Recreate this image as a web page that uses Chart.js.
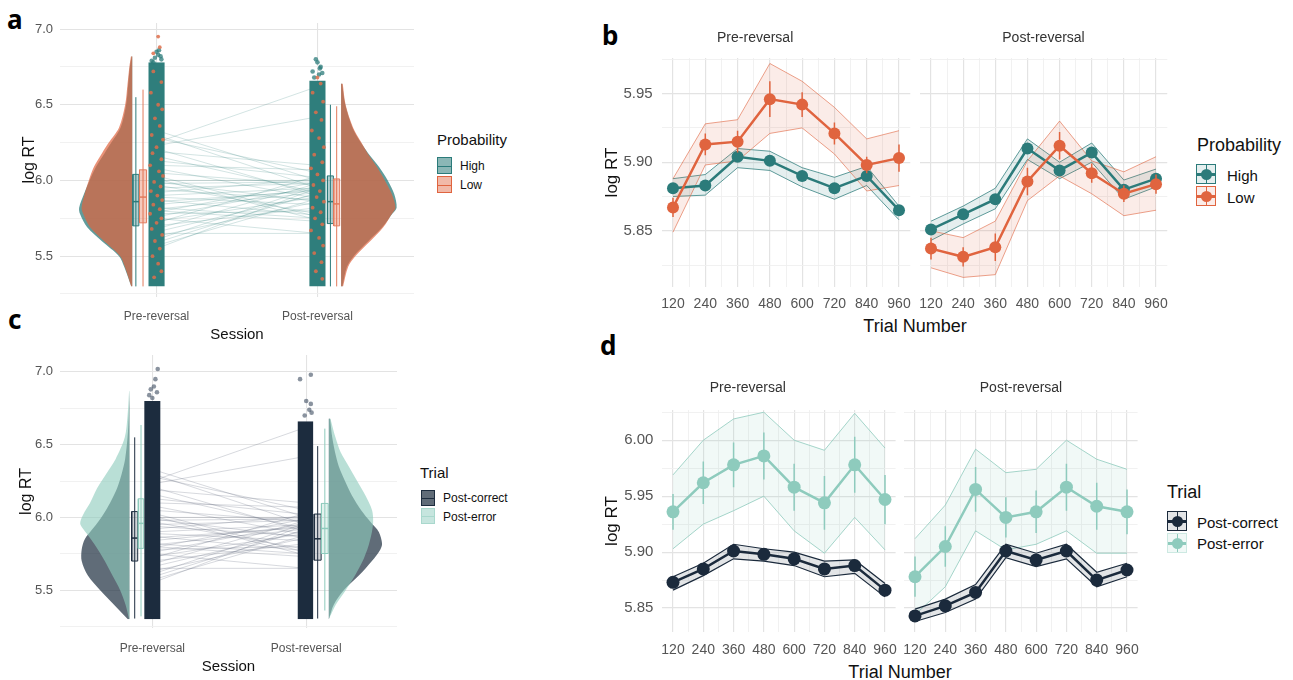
<!DOCTYPE html>
<html>
<head>
<meta charset="utf-8">
<script src="https://cdn.jsdelivr.net/npm/chart.js@4.4.1/dist/chart.umd.min.js"></script>
<style>
body{margin:0;width:1293px;height:680px;position:relative;overflow:hidden;background:#fff;font-family:"Liberation Sans",Arial,sans-serif;color:#111}
canvas{position:absolute}
.t{position:absolute;white-space:nowrap;line-height:1}
.c{transform:translate(-50%,-50%)}
.l{transform:translateY(-50%)}
.letter{font-family:"Noto Sans","DejaVu Sans",sans-serif;font-weight:700;font-size:26px;color:#000}
.bk{position:absolute;box-sizing:border-box;border:1px solid var(--c);background:var(--f)}
.bk i{position:absolute;left:0;right:0;top:50%;height:1px;background:var(--c)}
.pk{position:absolute;width:20px;height:20px;box-sizing:border-box;border:1px solid var(--c);background:var(--f)}
.pk .h{position:absolute;left:0;right:0;top:8px;height:2.5px;background:var(--p)}
.pk .v{position:absolute;top:0;bottom:0;left:8.5px;width:1.5px;background:var(--p)}
.pk .d{position:absolute;left:3.5px;top:3.5px;width:11px;height:11px;border-radius:50%;background:var(--p)}
</style>
</head>
<body>
<div class="t letter" style="left:7px;top:6px">a</div>
<div class="t letter" style="left:8px;top:306px">c</div>
<div class="t letter" style="left:602px;top:22px">b</div>
<div class="t letter" style="left:600px;top:332px">d</div>

<div class="t l" style="left:437px;top:139px;font-size:15px">Probability</div>
<div class="bk" style="left:437px;top:157px;width:15px;height:17px;--c:#2b7b7a;--f:rgba(43,123,122,.55)"><i></i></div>
<div class="bk" style="left:437px;top:176px;width:15px;height:17px;--c:#e0643f;--f:rgba(224,100,63,.45)"><i></i></div>
<div class="t l" style="left:460px;top:166px;font-size:12px">High</div>
<div class="t l" style="left:460px;top:185px;font-size:12px">Low</div>

<div class="t l" style="left:420px;top:472px;font-size:15px">Trial</div>
<div class="bk" style="left:421px;top:490px;width:14px;height:16px;--c:#1d2d3f;--f:rgba(29,45,63,.7)"><i></i></div>
<div class="bk" style="left:421px;top:508px;width:14px;height:16px;--c:#a9d8cd;--f:rgba(142,203,189,.5)"><i></i></div>
<div class="t l" style="left:443px;top:498px;font-size:12px">Post-correct</div>
<div class="t l" style="left:443px;top:517px;font-size:12px">Post-error</div>

<div class="t c" style="left:915px;top:326px;font-size:18px">Trial Number</div>
<div class="t l" style="left:1197px;top:145px;font-size:18px">Probability</div>
<div class="pk" style="left:1196px;top:164px;--c:#2b7b7a;--p:#2b7b7a;--f:rgba(43,123,122,.12)"><i class="h"></i><i class="v"></i><i class="d"></i></div>
<div class="pk" style="left:1196px;top:186px;--c:#e0643f;--p:#e0643f;--f:rgba(224,100,63,.12)"><i class="h"></i><i class="v"></i><i class="d"></i></div>
<div class="t l" style="left:1227px;top:175px;font-size:15px">High</div>
<div class="t l" style="left:1227px;top:197px;font-size:15px">Low</div>

<div class="t c" style="left:900px;top:672px;font-size:18px">Trial Number</div>
<div class="t l" style="left:1167px;top:492px;font-size:18px">Trial</div>
<div class="pk" style="left:1167px;top:511px;--c:#1b2a3c;--p:#1b2a3c;--f:rgba(27,42,60,.12)"><i class="h"></i><i class="v"></i><i class="d"></i></div>
<div class="pk" style="left:1167px;top:533px;--c:#cde9e2;--p:#8ecbbd;--f:rgba(142,203,189,.12)"><i class="h"></i><i class="v"></i><i class="d"></i></div>
<div class="t l" style="left:1197px;top:522px;font-size:15px">Post-correct</div>
<div class="t l" style="left:1197px;top:543px;font-size:15px">Post-error</div>

<script>
// ---- data ----
const sessions = ['Pre-reversal', 'Post-reversal'];
const trials = [120, 240, 360, 480, 600, 720, 840, 960];

// participant means per session (lines between the clouds)
const partPre  = [6.33,6.30,6.28,6.25,6.23,6.21,6.19,6.16,6.13,6.10,6.08,6.05,6.03,6.01,6.00,5.99,5.98,5.97,5.95,5.94,5.92,5.90,5.89,5.87,5.86,5.84,5.82,5.81,5.80,5.79,5.78,5.76,5.75,5.73,5.72,5.70,5.68,5.66,5.65,5.63,5.61,5.59,5.57,5.55];
const partPost = [6.00,5.95,6.05,6.62,6.42,5.90,6.10,5.92,6.02,6.07,5.88,5.97,5.76,5.74,6.00,5.86,5.99,5.78,5.98,5.87,6.01,5.95,5.84,5.77,5.93,5.94,5.75,5.92,5.73,5.99,5.80,5.96,5.65,5.89,6.03,5.82,5.98,5.91,5.65,5.86,5.96,5.92,5.88,5.95];

// panel a: densities (logRT grid, half-width in session units)
const aPreY     = [5.30,5.43,5.50,5.60,5.69,5.78,5.82,5.91,6.00,6.09,6.18,6.25,6.35,6.50,6.64,6.75,6.82];
const aPreHigh  = [0.006,0.050,0.082,0.190,0.280,0.325,0.330,0.300,0.265,0.225,0.172,0.130,0.072,0.038,0.025,0.015,0.004];
const aPreLow   = [0.006,0.046,0.075,0.176,0.262,0.305,0.315,0.296,0.270,0.238,0.188,0.146,0.082,0.044,0.029,0.018,0.008];
const aPostY    = [5.30,5.43,5.50,5.60,5.69,5.78,5.82,5.91,6.00,6.09,6.18,6.25,6.35,6.50,6.64];
const aPostHigh = [0.008,0.036,0.078,0.170,0.255,0.318,0.345,0.330,0.290,0.235,0.168,0.122,0.070,0.026,0.006];
const aPostLow  = [0.012,0.044,0.088,0.182,0.262,0.316,0.338,0.315,0.272,0.222,0.164,0.126,0.074,0.028,0.010];
// boxplots: [whisker low, q1, median, q3, whisker high]
const aPreHighBox  = [5.30,5.70,5.86,6.04,6.55];
const aPreLowBox   = [5.30,5.72,5.89,6.07,6.60];
const aPostHighBox = [5.30,5.715,5.86,6.03,6.50];
const aPostLowBox  = [5.30,5.70,5.845,6.01,6.49];
// jitter cloud range and visible dots
const aPreCloud = [5.30, 6.78];
const aPostCloud = [5.30, 6.66];
const aPreLowDotY  = [6.72,6.65,6.58,6.50,6.47,6.41,6.36,6.30,6.27,6.22,6.18,6.14,6.10,6.06,6.03,5.99,5.96,5.93,5.90,5.87,5.84,5.81,5.78,5.75,5.72,5.68,5.64,5.60,5.55,5.50,5.45,5.40,5.36,6.88,6.95,6.84];
const aPreLowDotX  = [-0.02,0.03,-0.035,0.01,0.035,-0.01,0.02,-0.03,0.04,0.0,-0.025,0.03,-0.04,0.015,0.04,-0.015,0.025,-0.035,0.005,0.035,-0.02,0.02,-0.04,0.03,0.0,-0.03,0.035,-0.01,0.02,-0.025,0.01,0.03,-0.015,0.02,0.01,-0.02];
const aPreHighOutY = [6.79,6.81,6.83,6.80,6.85,6.82,6.78,6.86];
const aPreHighOutX = [-0.03,-0.01,0.01,0.03,0.0,0.025,-0.02,0.015];
const aPostLowDotY = [6.64,6.58,6.52,6.45,6.40,6.33,6.28,6.22,6.17,6.12,6.08,6.04,6.00,5.97,5.93,5.89,5.86,5.82,5.79,5.75,5.71,5.67,5.62,5.57,5.52,5.46,5.40,5.35,6.68];
const aPostLowDotX = [0.02,-0.03,0.035,-0.01,0.025,-0.035,0.01,0.04,-0.02,0.03,-0.04,0.0,0.035,-0.025,0.015,-0.005,0.04,-0.03,0.02,-0.015,0.03,-0.04,0.01,0.035,-0.02,0.025,-0.01,0.03,0.0];
const aPostHighOutY = [6.68,6.70,6.72,6.75,6.78,6.80,6.71,6.74];
const aPostHighOutX = [-0.02,0.01,-0.03,0.02,0.0,-0.01,0.03,0.015];

// panel c
const cPreY     = [5.30,5.40,5.50,5.60,5.70,5.78,5.85,5.92,5.96,6.02,6.10,6.20,6.30,6.40,6.55,6.70,6.87];
const cPreCorr  = [0.010,0.100,0.190,0.270,0.310,0.310,0.290,0.240,0.210,0.170,0.125,0.080,0.050,0.028,0.012,0.004,0.0];
const cPreErr   = [0.002,0.025,0.060,0.110,0.160,0.205,0.250,0.300,0.320,0.300,0.255,0.210,0.150,0.090,0.030,0.012,0.002];
const cPostY    = [5.30,5.40,5.50,5.60,5.70,5.78,5.82,5.90,5.97,6.05,6.15,6.25,6.35,6.45,6.55,6.68];
const cPostCorr = [0.0,0.032,0.097,0.195,0.280,0.335,0.346,0.325,0.270,0.210,0.150,0.105,0.065,0.040,0.022,0.008];
const cPostErr  = [0.0,0.045,0.110,0.170,0.220,0.250,0.262,0.280,0.288,0.281,0.238,0.184,0.130,0.076,0.043,0.010];
const cPreCorrBox  = [5.305,5.70,5.858,6.04,6.55];
const cPreErrBox   = [5.32,5.787,5.959,6.128,6.635];
const cPostCorrBox = [5.305,5.706,5.853,6.023,6.49];
const cPostErrBox  = [5.36,5.752,5.924,6.096,6.61];
const cPreCloud = [5.30, 6.80];
const cPostCloud = [5.30, 6.66];
const cPreOutY  = [6.84,6.86,6.90,6.95,7.02,6.88,6.82];
const cPreOutX  = [-0.02,0.03,0.01,0.02,0.035,-0.01,0.0];
const cPostOutY = [6.70,6.74,6.78,6.95,6.98,6.80,6.72];
const cPostOutX = [-0.01,0.02,0.03,-0.04,0.03,0.0,0.035];

// panel b: Probability x trial bin
const highPreMean  = [5.881,5.883,5.904,5.901,5.890,5.881,5.890,5.865];
const highPreUpper = [5.888,5.891,5.910,5.908,5.896,5.889,5.897,5.868];
const highPreLower = [5.875,5.876,5.896,5.894,5.882,5.873,5.883,5.858];
const lowPreMean   = [5.867,5.913,5.915,5.946,5.942,5.921,5.898,5.903];
const lowPreUpper  = [5.888,5.928,5.931,5.972,5.959,5.940,5.917,5.923];
const lowPreLower  = [5.849,5.898,5.901,5.921,5.925,5.906,5.879,5.883];
const lowPreSE     = [0.007,0.008,0.008,0.013,0.009,0.008,0.006,0.010];
const highPostMean  = [5.851,5.862,5.873,5.910,5.894,5.907,5.880,5.888];
const highPostUpper = [5.857,5.868,5.881,5.917,5.900,5.914,5.887,5.895];
const highPostLower = [5.843,5.855,5.866,5.902,5.888,5.900,5.873,5.882];
const lowPostMean   = [5.837,5.831,5.838,5.886,5.912,5.892,5.877,5.884];
const lowPostUpper  = [5.850,5.845,5.857,5.901,5.930,5.901,5.893,5.904];
const lowPostLower  = [5.823,5.816,5.818,5.872,5.890,5.877,5.861,5.865];
const lowPostSE     = [0.008,0.007,0.010,0.010,0.010,0.007,0.006,0.007];

// panel d: Trial type x trial bin
const corrPreMean  = [5.873,5.885,5.901,5.898,5.894,5.885,5.888,5.866];
const corrPreUpper = [5.878,5.890,5.907,5.903,5.900,5.892,5.893,5.872];
const corrPreLower = [5.866,5.879,5.894,5.892,5.888,5.878,5.881,5.860];
const errPreMean   = [5.936,5.962,5.978,5.986,5.958,5.944,5.978,5.947];
const errPreUpper  = [5.969,6.000,6.019,6.025,6.000,5.991,6.024,5.993];
const errPreLower  = [5.903,5.925,5.937,5.950,5.919,5.899,5.931,5.902];
const errPreSE     = [0.016,0.019,0.020,0.021,0.021,0.024,0.025,0.022];
const corrPostMean  = [5.843,5.852,5.864,5.901,5.893,5.901,5.875,5.884];
const corrPostUpper = [5.849,5.858,5.871,5.907,5.899,5.907,5.882,5.890];
const corrPostLower = [5.838,5.846,5.858,5.895,5.887,5.894,5.869,5.878];
const errPostMean   = [5.878,5.905,5.956,5.931,5.936,5.958,5.941,5.936];
const errPostUpper  = [5.912,5.942,5.992,5.971,5.974,6.000,5.983,5.974];
const errPostLower  = [5.844,5.869,5.919,5.902,5.907,5.919,5.899,5.899];
const errPostSE     = [0.018,0.018,0.020,0.018,0.019,0.021,0.021,0.020];

// ---- styling ----
const TEAL = '#2b7b7a', ORANGE = '#e0643f', NAVY = '#1b2a3c', MINT = '#8ecbbd';
const GRID = '#e3e3e3', GRID_MINOR = '#efefef', TICK = '#555555';

Chart.defaults.font.family = '"Liberation Sans", Arial, sans-serif';
Chart.defaults.animation = false;
Chart.defaults.events = [];
Chart.defaults.plugins.legend.display = false;
Chart.defaults.plugins.tooltip.enabled = false;
Chart.defaults.elements.point.radius = 0;

function onStep(v, k) { return Math.abs(v * k - Math.round(v * k)) < 1e-6; }

function canvasAt(left, top, w, h) {
  const c = document.createElement('canvas');
  c.width = w; c.height = h;
  c.style.left = left + 'px'; c.style.top = top + 'px';
  c.style.width = w + 'px'; c.style.height = h + 'px';
  document.body.appendChild(c);
  return c;
}

const pts = (xs, ys) => ys.map((y, i) => ({x: xs[i], y}));

// raincloud panel (vertical, indexAxis y)
function rainChart(cv, o) {
  const ds = []; // bottom -> top
  const line = (data, color, w) => ds.push({data, borderColor: color, borderWidth: w, fill: false, pointRadius: 0});
  const area = (data, base, color, tension) => ds.push({data, fill: {value: base}, backgroundColor: color, borderWidth: 0, pointRadius: 0, tension: tension || 0});

  partPre.forEach((v, i) => line([{x: 1, y: v}, {x: 2, y: partPost[i]}], o.pairColor, 0.7));
  o.dens.forEach(d => area(d.ys.map((y, i) => ({x: d.base + d.side * d.w[i], y})), d.base, d.color, 0.3));
  o.boxes.forEach(b => {
    const wx = (b.l + b.r) / 2, v = b.v;
    line([{x: wx, y: v[0]}, {x: wx, y: v[4]}], b.line, 1);
    area([{x: b.r, y: v[1]}, {x: b.r, y: v[3]}], b.l, b.fill);
    line([{x: b.l, y: v[1]}, {x: b.r, y: v[1]}, {x: b.r, y: v[3]}, {x: b.l, y: v[3]}, {x: b.l, y: v[1]}], b.line, 1);
    line([{x: b.l, y: v[2]}, {x: b.r, y: v[2]}], b.line, 1.5);
  });
  o.clouds.forEach(c => area([{x: c.x + c.hw, y: c.r[0]}, {x: c.x + c.hw, y: c.r[1]}], c.x - c.hw, c.color));
  o.dots.forEach(d => ds.push({data: d.data, showLine: false, pointRadius: d.r, pointBackgroundColor: d.color, pointBorderWidth: 0, borderColor: d.color}));
  ds.forEach((d, i) => { d.order = ds.length - i; });

  return new Chart(cv, {
    type: 'line',
    data: {datasets: ds},
    options: {
      indexAxis: 'y',
      responsive: false,
      layout: {padding: o.pad},
      scales: {
        x: {
          type: 'linear', min: o.xMin, max: o.xMax,
          afterBuildTicks: s => { s.ticks = [{value: 1}, {value: 2}]; },
          ticks: {callback: v => sessions[Math.round(v) - 1], color: TICK, font: {size: 12}, padding: o.xTickPad, maxRotation: 0, autoSkip: false},
          grid: {color: GRID, lineWidth: 1.1, drawTicks: false},
          border: {display: false},
          title: {display: true, text: 'Session', color: '#111', font: {size: 15}, padding: {top: 0, bottom: o.xTitlePad}},
          afterFit: s => { s.height = o.xH; }
        },
        y: {
          type: 'linear', min: o.yMin, max: o.yMax,
          ticks: {stepSize: 0.25, includeBounds: false, autoSkip: false, callback: v => onStep(v, 2) ? v.toFixed(1) : '', color: TICK, font: {size: 13}, padding: 7},
          grid: {color: c => onStep(c.tick.value, 2) ? GRID : GRID_MINOR, lineWidth: c => onStep(c.tick.value, 2) ? 1.1 : 0.9, drawTicks: false},
          border: {display: false},
          title: {display: true, text: 'log RT', color: '#111', font: {size: 16}, padding: {top: o.yTitlePad, bottom: 0}},
          afterFit: s => { s.width = 60; }
        }
      }
    }
  });
}

// one facet of the trial-bin panels
function facetChart(cv, o) {
  const ds = [];
  o.series.forEach(s => {
    ds.push({data: pts(trials, s.upper), borderColor: s.edge, borderWidth: s.edgeW || 1, backgroundColor: s.band, fill: '+1', pointRadius: 0});
    ds.push({data: pts(trials, s.lower), borderColor: s.edge, borderWidth: s.edgeW || 1, fill: false, pointRadius: 0});
  });
  o.series.forEach(s => {
    if (s.se) {
      const d = [];
      trials.forEach((t, i) => { d.push({x: t, y: s.mean[i] - s.se[i]}, {x: t, y: s.mean[i] + s.se[i]}, {x: t, y: null}); });
      ds.push({data: d, borderColor: s.color, borderWidth: 1.5, spanGaps: false, fill: false, pointRadius: 0});
    }
    ds.push({data: pts(trials, s.mean), borderColor: s.color, borderWidth: 2.5, fill: false, pointRadius: o.r, pointBackgroundColor: s.color, pointBorderWidth: 0});
  });
  ds.forEach((d, i) => { d.order = ds.length - i; });

  return new Chart(cv, {
    type: 'line',
    data: {datasets: ds},
    options: {
      responsive: false,
      layout: {padding: o.pad},
      plugins: {
        title: {display: true, text: o.title, color: '#333', font: {size: 14, weight: 'normal'}, padding: {top: o.titleTop, bottom: o.titleBottom}}
      },
      scales: {
        x: {
          type: 'linear', min: 78, max: 1002,
          ticks: {stepSize: 60, includeBounds: false, autoSkip: false, maxRotation: 0, callback: v => v % 120 === 0 ? String(v) : '', color: TICK, font: {size: 14}, padding: o.xTickPad},
          grid: {color: c => c.tick.value % 120 === 0 ? GRID : GRID_MINOR, lineWidth: c => c.tick.value % 120 === 0 ? 1.2 : 0.9, drawTicks: false},
          border: {display: false},
          afterFit: s => { s.height = o.xH; }
        },
        y: {
          type: 'linear', min: o.yMin, max: o.yMax,
          ticks: {display: o.showY, stepSize: 0.025, includeBounds: false, autoSkip: false, callback: v => onStep(v, 20) ? v.toFixed(2) : '', color: TICK, font: {size: 15}, padding: 9},
          grid: {color: c => onStep(c.tick.value, 20) ? GRID : GRID_MINOR, lineWidth: c => onStep(c.tick.value, 20) ? 1.2 : 0.9, drawTicks: false},
          border: {display: false},
          title: {display: o.showY, text: 'log RT', color: '#111', font: {size: 17}, padding: {top: 1.8, bottom: 0}},
          afterFit: s => { s.width = o.yW; }
        }
      }
    }
  });
}

// ---- panel a ----
rainChart(canvasAt(0, 0, 430, 350), {
  pad: {top: 23, right: 16, bottom: 0, left: 0},
  xMin: 0.4, xMax: 2.6, yMin: 5.23, yMax: 7.04,
  xH: 53, xTickPad: 12, xTitlePad: 6, yTitlePad: 20.4,
  pairColor: 'rgba(43,123,122,0.3)',
  dens: [
    {ys: aPreY, w: aPreHigh, base: 0.849, side: -1, color: 'rgba(43,123,122,0.75)'},
    {ys: aPreY, w: aPreLow, base: 0.849, side: -1, color: 'rgba(224,100,63,0.7)'},
    {ys: aPostY, w: aPostHigh, base: 2.147, side: 1, color: 'rgba(43,123,122,0.75)'},
    {ys: aPostY, w: aPostLow, base: 2.147, side: 1, color: 'rgba(224,100,63,0.7)'}
  ],
  boxes: [
    {v: aPreHighBox, l: 0.853, r: 0.890, fill: 'rgba(43,123,122,0.35)', line: TEAL},
    {v: aPreLowBox, l: 0.894, r: 0.938, fill: 'rgba(224,100,63,0.35)', line: '#e27a5c'},
    {v: aPostHighBox, l: 2.062, r: 2.099, fill: 'rgba(43,123,122,0.35)', line: TEAL},
    {v: aPostLowBox, l: 2.101, r: 2.138, fill: 'rgba(224,100,63,0.35)', line: '#e27a5c'}
  ],
  clouds: [
    {x: 1, hw: 0.05, r: aPreCloud, color: '#2f7e7c'},
    {x: 2, hw: 0.05, r: aPostCloud, color: '#2f7e7c'}
  ],
  dots: [
    {data: pts(aPreHighOutX.map(d => 1 + d), aPreHighOutY), r: 2.3, color: 'rgba(43,123,122,0.75)'},
    {data: pts(aPostHighOutX.map(d => 2 + d), aPostHighOutY), r: 2.3, color: 'rgba(43,123,122,0.75)'},
    {data: pts(aPreLowDotX.map(d => 1 + d), aPreLowDotY), r: 1.9, color: 'rgba(222,110,75,0.85)'},
    {data: pts(aPostLowDotX.map(d => 2 + d), aPostLowDotY), r: 1.9, color: 'rgba(222,110,75,0.85)'}
  ]
});

// ---- panel c ----
rainChart(canvasAt(0, 340, 420, 340), {
  pad: {top: 15, right: 23, bottom: 0, left: 0},
  xMin: 0.4, xMax: 2.59, yMin: 5.24, yMax: 7.116,
  xH: 52, xTickPad: 13, xTitlePad: 4, yTitlePad: 17.4,
  pairColor: 'rgba(90,100,120,0.35)',
  dens: [
    {ys: cPreY, w: cPreCorr, base: 0.851, side: -1, color: 'rgba(29,45,63,0.7)'},
    {ys: cPreY, w: cPreErr, base: 0.851, side: -1, color: 'rgba(142,203,189,0.62)'},
    {ys: cPostY, w: cPostCorr, base: 2.147, side: 1, color: 'rgba(29,45,63,0.7)'},
    {ys: cPostY, w: cPostErr, base: 2.147, side: 1, color: 'rgba(142,203,189,0.62)'}
  ],
  boxes: [
    {v: cPreCorrBox, l: 0.866, r: 0.905, fill: 'rgba(29,45,63,0.2)', line: '#1d2d3f'},
    {v: cPreErrBox, l: 0.909, r: 0.944, fill: 'rgba(142,203,189,0.25)', line: MINT},
    {v: cPostCorrBox, l: 2.052, r: 2.097, fill: 'rgba(29,45,63,0.2)', line: '#1d2d3f'},
    {v: cPostErrBox, l: 2.099, r: 2.143, fill: 'rgba(142,203,189,0.25)', line: MINT}
  ],
  clouds: [
    {x: 1, hw: 0.052, r: cPreCloud, color: '#1c2c3e'},
    {x: 1.995, hw: 0.05, r: cPostCloud, color: '#1c2c3e'}
  ],
  dots: [
    {data: pts(cPreOutX.map(d => 1 + d), cPreOutY), r: 2.3, color: 'rgba(60,75,95,0.6)'},
    {data: pts(cPostOutX.map(d => 2 + d), cPostOutY), r: 2.3, color: 'rgba(60,75,95,0.6)'}
  ]
});

// ---- panel b ----
const bHigh = (m, u, l) => ({mean: m, upper: u, lower: l, color: TEAL, edge: 'rgba(43,123,122,0.75)', band: 'rgba(43,123,122,0.12)'});
const bLow = (m, u, l, se) => ({mean: m, upper: u, lower: l, se, color: ORANGE, edge: 'rgba(224,100,63,0.6)', band: 'rgba(224,100,63,0.12)'});
facetChart(canvasAt(600, 20, 322, 300), {
  title: 'Pre-reversal', titleTop: 9.6, titleBottom: 11.6,
  pad: {top: 0, right: 11.7, bottom: 0, left: 0},
  yMin: 5.809, yMax: 5.976, showY: true, yW: 61.7, xH: 33, xTickPad: 9, r: 6,
  series: [bHigh(highPreMean, highPreUpper, highPreLower), bLow(lowPreMean, lowPreUpper, lowPreLower, lowPreSE)]
});
facetChart(canvasAt(905, 20, 275, 300), {
  title: 'Post-reversal', titleTop: 9.6, titleBottom: 11.6,
  pad: {top: 0, right: 12.75, bottom: 0, left: 14.75},
  yMin: 5.809, yMax: 5.976, showY: false, yW: 0, xH: 33, xTickPad: 9, r: 6,
  series: [bHigh(highPostMean, highPostUpper, highPostLower), bLow(lowPostMean, lowPostUpper, lowPostLower, lowPostSE)]
});

// ---- panel d ----
const dCorr = (m, u, l) => ({mean: m, upper: u, lower: l, color: NAVY, edge: NAVY, edgeW: 1.2, band: 'rgba(27,42,60,0.12)'});
const dErr = (m, u, l, se) => ({mean: m, upper: u, lower: l, se, color: MINT, edge: 'rgba(142,203,189,0.8)', band: 'rgba(142,203,189,0.12)'});
facetChart(canvasAt(600, 370, 312, 310), {
  title: 'Pre-reversal', titleTop: 9.6, titleBottom: 13.6,
  pad: {top: 0, right: 16.4, bottom: 0, left: 0},
  yMin: 5.8286, yMax: 6.027, showY: true, yW: 62.4, xH: 48, xTickPad: 10, r: 6.5,
  series: [dErr(errPreMean, errPreUpper, errPreLower, errPreSE), dCorr(corrPreMean, corrPreUpper, corrPreLower)]
});
facetChart(canvasAt(890, 370, 262, 310), {
  title: 'Post-reversal', titleTop: 9.6, titleBottom: 13.6,
  pad: {top: 0, right: 14.4, bottom: 0, left: 14.4},
  yMin: 5.8286, yMax: 6.027, showY: false, yW: 0, xH: 48, xTickPad: 10, r: 6.5,
  series: [dErr(errPostMean, errPostUpper, errPostLower, errPostSE), dCorr(corrPostMean, corrPostUpper, corrPostLower)]
});
</script>
</body>
</html>
